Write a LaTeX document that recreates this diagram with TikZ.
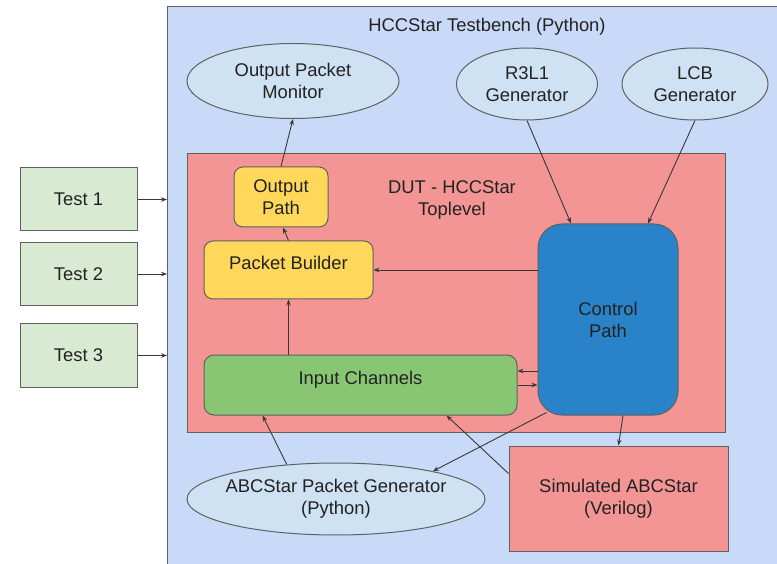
\documentclass[tikz,border=0pt]{standalone}
\usepackage{fontspec}
\setmainfont{Liberation Sans}
\usetikzlibrary{arrows.meta,shapes.geometric}
\definecolor{benchblue}{HTML}{C9DAF8}
\definecolor{genblue}{HTML}{CFE2F3}
\definecolor{dutred}{HTML}{F49595}
\definecolor{testgreen}{HTML}{D9EAD3}
\definecolor{pathyellow}{HTML}{FFD75A}
\definecolor{chgreen}{HTML}{88C674}
\definecolor{ctrlblue}{HTML}{2A82C8}
\definecolor{edge}{HTML}{606060}
\definecolor{ink}{HTML}{222222}
\tikzset{
  every node/.style={font=\fontsize{18.4}{22}\selectfont, text=ink, align=center, inner sep=0pt},
  boxbase/.style={draw=edge, line width=1pt},
  testbox/.style={boxbase, fill=testgreen, minimum width=117pt, minimum height=63pt},
  genell/.style={boxbase, ellipse, fill=genblue},
  yellowbox/.style={boxbase, fill=pathyellow, rounded corners=9pt},
  arr/.style={draw=ink!90, line width=0.9pt, -{Stealth[length=6pt,width=4.5pt]}},
}
\begin{document}
\begin{tikzpicture}[x=1pt,y=-1pt]
\useasboundingbox (0,0) rectangle (777,564);
\clip (0,0) rectangle (777,564);

% testbench frame and DUT region
\node[boxbase, fill=benchblue, minimum width=640pt, minimum height=590pt, anchor=north west] (tb) at (167,6) {};
\node (tbtitle) at (487,27) {HCCStar Testbench (Python)};
\node[boxbase, fill=dutred, minimum width=538pt, minimum height=279pt, anchor=north west] (dut) at (187,153) {};
\node (dutlabel) at (452,200) {DUT - HCCStar\\Toplevel};

% generators and monitor
\node[genell, minimum width=212pt, minimum height=75pt] (opm) at (293,81) {Output Packet\\Monitor};
\node[genell, minimum width=141pt, minimum height=72pt] (r3) at (527,84) {R3L1\\Generator};
\node[genell, minimum width=146pt, minimum height=72pt] (lcb) at (695,84) {LCB\\Generator};
\node[genell, inner xsep=-8pt, minimum width=298pt, minimum height=72pt] (apg) at (336,499) {ABCStar Packet Generator\\(Python)};

% tests
\node[testbox] (t1) at (78.5,199.5) {Test 1};
\node[testbox] (t2) at (78.5,274) {Test 2};
\node[testbox] (t3) at (78.5,355.5) {Test 3};

% DUT blocks
\node[yellowbox, minimum width=94pt, minimum height=60pt] (op) at (281,197) {Output\\Path};
\node[yellowbox, minimum width=169pt, minimum height=58pt] (pb) at (288.5,270) {};
\node (pbtext) at (288.5,263) {Packet Builder};
\node[boxbase, fill=chgreen, rounded corners=10pt, minimum width=313pt, minimum height=60pt] (ic) at (360.5,385) {};
\node (ictext) at (360.5,380) {Input Channels};
\node[boxbase, fill=ctrlblue, rounded corners=24pt, minimum width=140pt, minimum height=191pt] (cp) at (608,319.5) {Control\\Path};
\node[boxbase, fill=dutred, minimum width=219pt, minimum height=105pt] (sim) at (618.5,498.5) {Simulated ABCStar\\(Verilog)};

% connectors
\draw[arr] (t1.east) -- (tb.west |- t1.east);
\draw[arr] (t2.east) -- (tb.west |- t2.east);
\draw[arr] (t3.east) -- (tb.west |- t3.east);
\draw[arr] (op.north) -- (opm.south);
\draw[arr] (pb.north) -- ([xshift=2pt]op.south);
\draw[arr] (pb.south |- ic.north) -- (pb.south);
\draw[arr] (cp.west |- pb.east) -- (pb.east);
\draw[arr] (r3.south) -- ([xshift=-37pt]cp.north);
\draw[arr] (lcb.south) -- ([xshift=40pt]cp.north);
\coordinate (icup) at ([yshift=14pt]ic.east);
\draw[arr] (cp.west |- icup) -- (icup);
\draw[arr] (ic.east) -- (cp.west |- ic.east);
\coordinate (cpfoot) at ([xshift=9pt,yshift=3pt]cp.south west);
\draw[arr] (cpfoot) -- (apg.16);
\draw[arr] ([yshift=25pt]sim.west) -- ([xshift=86pt]ic.south);
\draw[arr] ([xshift=15pt]cp.south) -- (sim.north);
\draw[arr] (apg.145) -- ([xshift=-98pt]ic.south);
\end{tikzpicture}
\end{document}
